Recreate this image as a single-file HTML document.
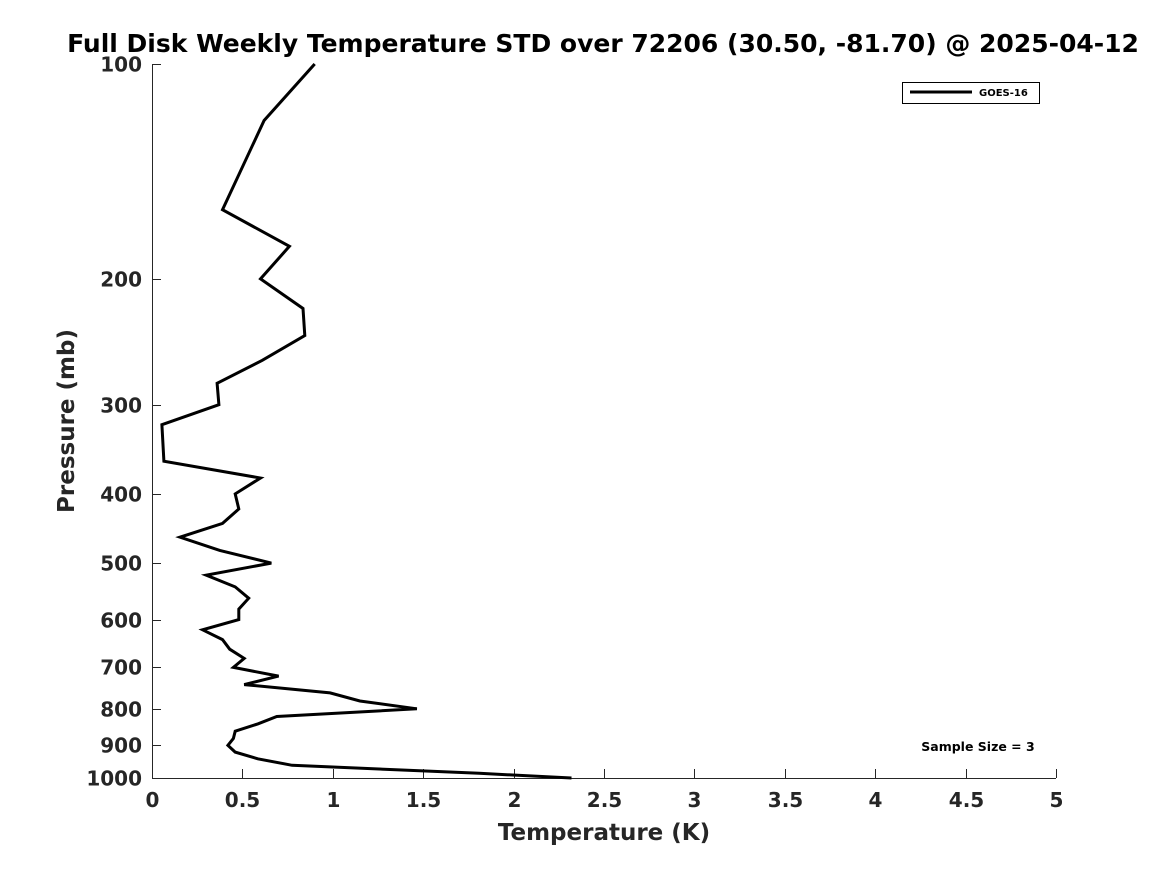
<!DOCTYPE html>
<html><head><meta charset="utf-8"><style>
body{margin:0;background:#fff;}
svg{display:block;font-family:"DejaVu Sans","Liberation Sans",sans-serif;}
</style></head><body>
<svg id="chart" width="1167" height="875">
<text x="603" y="52" text-anchor="middle" font-size="25" font-weight="bold" fill="#000">Full Disk Weekly Temperature STD over 72206 (30.50, -81.70) @ 2025-04-12</text>
<g id="axes"></g>
<g id="plot"></g>
<text x="604" y="840" text-anchor="middle" font-size="23" font-weight="bold" fill="#262626">Temperature (K)</text>
<text transform="translate(74,421) rotate(-90)" text-anchor="middle" font-size="23" font-weight="bold" fill="#262626">Pressure (mb)</text>
<g>
<rect x="902.5" y="82.5" width="137" height="21" fill="#fff" stroke="#000" stroke-width="1"/>
<line x1="910" y1="92" x2="972" y2="92" stroke="#000" stroke-width="3"/>
<text x="979" y="96" font-size="10" font-weight="bold">GOES-16</text>
</g>
<text x="978" y="751" text-anchor="middle" font-size="12.5" font-weight="bold">Sample Size = 3</text>
</svg>
<script>
const xTicks=[0,0.5,1,1.5,2,2.5,3,3.5,4,4.5,5];
const xTickLabels=["0","0.5","1","1.5","2","2.5","3","3.5","4","4.5","5"];
const yTicks=[100,200,300,400,500,600,700,800,900,1000];
const pressures=[100,120,160,180,200,220,240,260,280,300,320,360,380,400,420,440,460,480,500,520,540,560,580,600,620,640,660,680,700,720,740,760,780,800,820,840,860,880,900,920,940,960,985,1000];
const stdValues=[0.90,0.62,0.39,0.76,0.60,0.835,0.845,0.61,0.36,0.37,0.055,0.066,0.60,0.46,0.48,0.39,0.155,0.375,0.66,0.30,0.46,0.535,0.48,0.48,0.28,0.39,0.43,0.51,0.45,0.70,0.51,0.985,1.15,1.465,0.69,0.585,0.46,0.45,0.42,0.46,0.585,0.775,1.81,2.32];
const X0=152,X1=1056,Y0=64,Y1=778;
const xs=v=>X0+(v-0)/(5-0)*(X1-X0);
const ys=p=>Y0+(Math.log10(p)-2)/(3-2)*(Y1-Y0);
const NS="http://www.w3.org/2000/svg";
const axes=document.getElementById('axes'),plot=document.getElementById('plot');
function mk(tag,attrs,parent){const e=document.createElementNS(NS,tag);for(const k in attrs)e.setAttribute(k,attrs[k]);parent.appendChild(e);return e;}
let a=mk('line',{x1:X0,y1:Y1+0.5,x2:X1,y2:Y1+0.5,stroke:'#262626','stroke-width':1},axes);


a=mk('line',{x1:X0+0.5,y1:Y0,x2:X0+0.5,y2:Y1,stroke:'#262626','stroke-width':1},axes);


xTicks.forEach((v,i)=>{
 const x=Math.round(xs(v))+0.5;
 const t=mk('line',{x1:x,y1:Y1,x2:x,y2:Y1-9,stroke:'#262626'},axes);
 
 
 const l=mk('text',{x:x,y:807,'text-anchor':'middle','font-size':20,'font-weight':'bold',fill:'#262626'},axes);
 l.textContent=xTickLabels[i];
 
 
});
yTicks.forEach(p=>{
 const y=Math.round(ys(p))+0.5;
 const t=mk('line',{x1:X0,y1:y,x2:X0+9,y2:y,stroke:'#262626'},axes);
 
 
 const l=mk('text',{x:142,y:y+7,'text-anchor':'end','font-size':20,'font-weight':'bold',fill:'#262626'},axes);
 l.textContent=String(p);
 
 
});
const pts=pressures.map((p,i)=>xs(stdValues[i]).toFixed(1)+','+ys(p).toFixed(1)).join(' ');
const pl=mk('polyline',{points:pts,fill:'none',stroke:'#000','stroke-width':3,'stroke-linejoin':'miter'},plot);


</script>
</body></html>
